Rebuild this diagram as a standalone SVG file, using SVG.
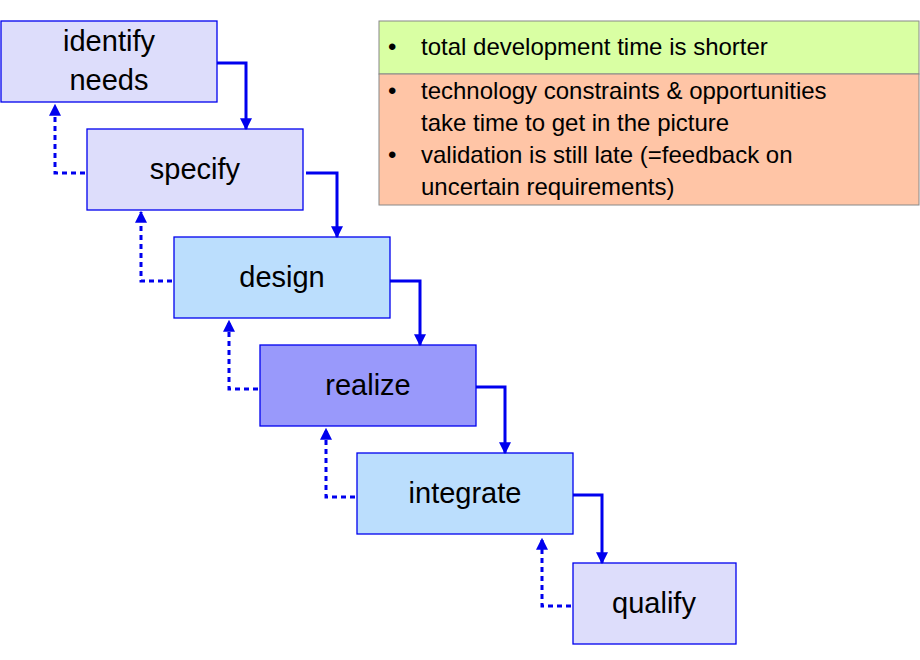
<svg xmlns="http://www.w3.org/2000/svg" width="920" height="660" viewBox="0 0 920 660">
<defs>
<style>
.n{stroke:#0000ee;stroke-width:1.3}
.t{font-family:"Liberation Sans",Arial,sans-serif;font-size:29px;fill:#000;text-anchor:middle}
.l{font-family:"Liberation Sans",Arial,sans-serif;font-size:24px;fill:#000}
.s{fill:none;stroke:#0000ee;stroke-width:3}
.d{fill:none;stroke:#0000ee;stroke-width:3;stroke-dasharray:5,4}
</style>
<marker id="a" viewBox="0 0 10 10" refX="9" refY="5" markerWidth="4" markerHeight="4" orient="auto"><path d="M0,0L10,5L0,10z" fill="#0000ee"/></marker>
</defs>
<rect width="920" height="660" fill="#fff"/>
<g id="identify"><rect class="n" x="1" y="21" width="216" height="81" fill="#ddddfb"/><text class="t" x="109" y="51">identify</text><text class="t" x="109" y="90">needs</text></g>
<g id="specify"><rect class="n" x="87" y="129" width="216" height="81" fill="#ddddfb"/><text class="t" x="195" y="179">specify</text></g>
<g id="design"><rect class="n" x="174" y="237" width="216" height="81" fill="#bbdefd"/><text class="t" x="282" y="287">design</text></g>
<g id="realize"><rect class="n" x="260" y="345" width="216" height="81" fill="#9999fb"/><text class="t" x="368" y="395">realize</text></g>
<g id="integrate"><rect class="n" x="357" y="453" width="216" height="81" fill="#bbdefd"/><text class="t" x="465" y="503">integrate</text></g>
<g id="qualify"><rect class="n" x="573" y="563" width="163" height="81" fill="#ddddfb"/><text class="t" x="654" y="613">qualify</text></g>
<g id="notes">
<rect x="379" y="21" width="540" height="53" fill="#d9ffa3" stroke="#888" stroke-width="1"/>
<rect x="379" y="74" width="540" height="131" fill="#ffc5a6" stroke="#888" stroke-width="1"/>
<text class="l" x="388" y="55">•</text><text class="l" x="421" y="55">total development time is shorter</text>
<text class="l" x="388" y="99">•</text><text class="l" x="421" y="99">technology constraints &amp; opportunities</text>
<text class="l" x="421" y="131">take time to get in the picture</text>
<text class="l" x="388" y="163">•</text><text class="l" x="421" y="163">validation is still late (=feedback on</text>
<text class="l" x="421" y="195">uncertain requirements)</text>
</g>
<g id="connectors">
<path class="s" d="M217,63H246V129" marker-end="url(#a)"/>
<path class="s" d="M306,173H337V237" marker-end="url(#a)"/>
<path class="s" d="M390,281H420V345" marker-end="url(#a)"/>
<path class="s" d="M476,387H505V453" marker-end="url(#a)"/>
<path class="s" d="M573,495H602V563" marker-end="url(#a)"/>
<path class="d" d="M85,173H55V105" marker-end="url(#a)"/>
<path class="d" d="M172,281H141V212" marker-end="url(#a)"/>
<path class="d" d="M258,389H229V321" marker-end="url(#a)"/>
<path class="d" d="M355,497H326V429" marker-end="url(#a)"/>
<path class="d" d="M571,606H542V539" marker-end="url(#a)"/>
</g>
</svg>
